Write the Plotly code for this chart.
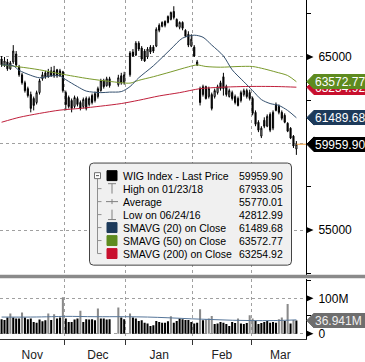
import numpy as np
import pandas as pd
import plotly.graph_objects as go

# ---------------- data ----------------
holidays = ["2017-12-25", "2017-12-26", "2018-01-01"]
dates = [d + pd.Timedelta(hours=12) for d in pd.bdate_range("2017-11-01", "2018-03-22")
         if d.strftime("%Y-%m-%d") not in holidays]

opens = [64886, 64543, 64714, 64314, 64714, 65171, 64429, 63971, 63514, 63171,
         62829, 62600, 62371, 62943, 63743, 64086, 63857, 64200, 63914, 64257,
         63914, 64143, 62943, 62657, 62486, 62143, 62600, 62371, 62143, 62600,
         62257, 62771, 62486, 62714, 63057, 63629, 63343, 63743,
         63400, 63914, 63514,
         63971, 65286, 65114, 65800, 65514, 65343,
         65000, 65571, 65571, 65629, 66829, 66771, 67057, 67000, 67171, 67628,
         67171, 66714, 67000, 66543, 66314, 65629, 65571, 64543, 63171, 62829,
         63286, 62714, 62829, 62714, 62943, 63514, 63857, 63286, 62714, 62943,
         62714, 62600, 62486, 62829, 63057, 62943, 62600, 61800, 61229, 60429,
         61343, 61000, 61686, 60886, 62257, 62143, 61800, 61629, 61171, 60886,
         60429, 59686]
highs = [65057, 65000, 64886, 64771, 65686, 65343, 64543, 64086, 63629, 63286,
         63000, 62714, 63057, 63743, 64143, 64200, 64314, 64429, 64486, 64314,
         64314, 64200, 63057, 62771, 62600, 62771, 62714, 62486, 62657, 62714,
         62714, 62886, 63000, 63286, 63743, 63743, 63857, 63857,
         63971, 64086, 64143,
         65343, 65457, 65914, 65914, 65629, 65457,
         65571, 65686, 65686, 66714, 66943, 67057, 67114, 67400, 67628, 67933.05,
         67228, 67057, 67057, 66600, 66486, 66314, 65686, 64829, 63286, 63400,
         63343, 63286, 62943, 63171, 63400, 63629, 64086, 63400, 63171, 63057,
         62829, 62714, 63057, 63171, 63171, 63114, 62714, 61914, 61343, 61000,
         61514, 61686, 61800, 61914, 62371, 62257, 61914, 61743, 61229, 60943,
         60486, 60143]
lows = [64429, 64429, 64200, 64257, 64600, 64429, 63857, 63400, 62943, 62657,
        61800, 61914, 62257, 62829, 63629, 63743, 63800, 63857, 63800, 63800,
        63857, 62943, 61914, 62029, 61800, 62029, 62143, 61914, 62029, 61914,
        62143, 62257, 62371, 62600, 63000, 63171, 63286, 63229,
        63286, 63400, 63400,
        63857, 65000, 65057, 65343, 64771, 64714,
        64886, 65171, 65229, 65571, 66429, 66714, 66714, 66943, 67114, 67171,
        66714, 66600, 66543, 66143, 65571, 65571, 65000, 64486, 62200, 62714,
        62543, 62600, 61914, 62600, 62829, 63057, 62771, 62714, 62657, 62486,
        62257, 62143, 62371, 62714, 62600, 62486, 61629, 61000, 60657, 60314,
        60886, 60943, 60657, 60771, 61857, 61686, 61343, 61171, 60657, 60257,
        59743, 59343]
closes = [64543, 64771, 64314, 64657, 65343, 64543, 63971, 63514, 63057, 62771,
          62029, 62200, 62943, 63629, 63971, 63857, 64143, 63914, 64200, 63914,
          64200, 63057, 62257, 62143, 62029, 62657, 62257, 62029, 62543, 62029,
          62600, 62371, 62886, 63171, 63629, 63286, 63743, 63343,
          63800, 63514, 63971,
          65229, 65057, 65800, 65457, 64886, 64771,
          65457, 65286, 65343, 66600, 66543, 67000, 66829, 67343, 67571, 67286,
          66771, 67000, 66657, 66200, 65686, 66029, 65057, 64714, 62371, 63286,
          62600, 63171, 62029, 63057, 63286, 63171, 63171, 62829, 63057, 62600,
          62371, 62200, 62943, 63057, 62714, 62600, 61743, 61114, 60771, 60886,
          61000, 61571, 60771, 61800, 61914, 61800, 61457, 61229, 60714, 60314,
          59857, 59959.90]
volume_m = [41, 39, 46, 57, 46, 43, 43, 60, 46, 41,
            43, 33, 31, 40, 35, 38, 57, 39, 55, 43,
            46, 103, 43, 33, 33, 40, 43, 65, 33, 41,
            40, 41, 38, 71, 43, 43, 40, 41,
            74, 46, 41,
            57, 46, 43, 36, 38, 31,
            29, 22, 24, 36, 33, 31, 31, 35, 49, 31,
            36, 43, 41, 39, 39, 33, 29, 31, 69, 38,
            41, 43, 50, 27, 29, 33, 31, 27, 22, 33,
            30, 43, 29, 27, 30, 52, 43, 36, 27, 30,
            33, 36, 31, 33, 31, 41, 46, 36, 84, 29,
            39, 36.941]

sma20_dates = ["2017-11-01", "2017-11-07", "2017-11-09", "2017-11-15", "2017-11-20", "2017-11-24",
               "2017-11-29", "2017-12-01", "2017-12-07", "2017-12-12", "2017-12-19", "2017-12-22",
               "2017-12-28", "2018-01-02", "2018-01-05", "2018-01-12", "2018-01-22", "2018-01-26",
               "2018-02-01", "2018-02-06", "2018-02-09", "2018-02-15", "2018-02-20", "2018-02-26",
               "2018-03-01", "2018-03-06", "2018-03-09", "2018-03-14", "2018-03-19", "2018-03-22"]
sma20 = [64540, 64490, 64230, 63940, 63800, 63910, 63910, 63690, 63290, 63030, 62940, 62970,
         63000, 63290, 63800, 64490, 65460, 66090, 66260, 66140, 65690, 65060, 64260, 63570,
         63060, 62540, 62310, 62200, 61910, 61489.68]
sma50_dates = ["2017-11-01", "2017-11-09", "2017-11-20", "2017-11-29", "2017-12-13", "2017-12-22",
               "2018-01-02", "2018-01-05", "2018-01-12", "2018-01-22", "2018-01-30", "2018-02-02",
               "2018-02-07", "2018-02-14", "2018-02-22", "2018-03-01", "2018-03-07", "2018-03-13",
               "2018-03-19", "2018-03-22"]
sma50 = [64540, 64430, 64260, 64030, 63740, 63590, 63490, 63650, 63860, 64140, 64430, 64540,
         64450, 64410, 64450, 64450, 64310, 64130, 63930, 63572.77]
sma200_dates = ["2017-11-01", "2017-11-09", "2017-11-20", "2017-11-29", "2017-12-08", "2017-12-19",
                "2017-12-28", "2018-01-05", "2018-01-16", "2018-01-25", "2018-02-05", "2018-02-14",
                "2018-02-23", "2018-03-06", "2018-03-14", "2018-03-22"]
sma200 = [61230, 61510, 61740, 61930, 62030, 62160, 62310, 62500, 62750, 62940, 63170, 63250,
          63290, 63300, 63290, 63254.92]
vol_ma_dates = ["2017-11-01", "2017-11-15", "2017-11-24", "2017-12-01", "2017-12-15", "2017-12-29",
                "2018-01-10", "2018-01-19", "2018-01-31", "2018-02-09", "2018-02-20", "2018-03-01",
                "2018-03-12", "2018-03-22"]
vol_ma = [47, 47, 48, 49, 48, 48, 47, 45, 42, 40, 38, 37, 37, 39]

legend_rows = [("WIG Index - Last Price", "59959.90"),
               ("High on 01/23/18", "67933.05"),
               ("Average", "55770.01"),
               ("Low on 06/24/16", "42812.99"),
               ("SMAVG (20) on Close", "61489.68"),
               ("SMAVG (50) on Close", "63572.77"),
               ("SMAVG (200) on Close", "63254.92")]

# ---------------- styling / geometry ----------------
FONT = "Liberation Sans"
W, H = 365, 362
PW, PH = 306, 342          # plot area (margins: r=59, b=20)
C20, C50, C200 = "#34506e", "#7a9a2c", "#c0203c"
T20, T50, T200 = "#1d3a5a", "#5e8b1f", "#c8102e"
GRID = "#a0a0a0"

def noon(s):
    return pd.Timestamp(s) + pd.Timedelta(hours=12)

def px(x):
    return x / PW

def py(y):
    return (PH - y) / PH

Y_TOP, Y_BOT = 68293, 52428          # main panel (y px 0 .. 277)
V_TOP, V_BOT = 156.2e6, -15.2e6      # volume panel (y px 281 .. 342)
P_PER_PX = (Y_TOP - Y_BOT) / 277.0
V_PER_PX = (V_TOP - V_BOT) / 61.0
x_start = "2017-10-31 23:00"
x_end = "2018-03-27 19:00"

vols = [v * 1e6 for v in volume_m]
ma_interp = np.interp([d.value for d in dates],
                      [noon(d).value for d in vol_ma_dates], vol_ma)
vol_colors = ["#8a8a8a" if v > m else "#000000" for v, m in zip(volume_m, ma_interp)]

fig = go.Figure()
fig.add_trace(go.Scatter(x=[noon(d) for d in sma200_dates], y=sma200, mode="lines",
                         line=dict(color=C200, width=1, shape="spline", smoothing=0.8),
                         xaxis="x", yaxis="y", hoverinfo="skip"))
fig.add_trace(go.Scatter(x=[noon(d) for d in sma50_dates], y=sma50, mode="lines",
                         line=dict(color=C50, width=1, shape="spline", smoothing=0.8),
                         xaxis="x", yaxis="y", hoverinfo="skip"))
fig.add_trace(go.Scatter(x=[noon(d) for d in sma20_dates], y=sma20, mode="lines",
                         line=dict(color=C20, width=1, shape="spline", smoothing=0.8),
                         xaxis="x", yaxis="y", hoverinfo="skip"))
fig.add_trace(go.Candlestick(x=dates, open=opens, high=highs, low=lows, close=closes,
                             increasing=dict(line=dict(color="black", width=1), fillcolor="white"),
                             decreasing=dict(line=dict(color="black", width=1), fillcolor="black"),
                             whiskerwidth=0, xaxis="x", yaxis="y", hoverinfo="skip"))
fig.add_trace(go.Bar(x=dates, y=vols, marker=dict(color=vol_colors, line=dict(width=0)),
                     xaxis="x2", yaxis="y2", hoverinfo="skip"))
fig.add_trace(go.Scatter(x=[noon(d) for d in vol_ma_dates], y=[v * 1e6 for v in vol_ma],
                         mode="lines", line=dict(color="#56769a", width=1, shape="spline"),
                         xaxis="x2", yaxis="y2", hoverinfo="skip"))

shapes = []
annotations = []

# last price line
shapes.append(dict(type="line", xref="x", yref="y", x0=dates[-1], x1=x_end,
                   y0=closes[-1], y1=closes[-1], line=dict(color="#f0a040", width=1)))

# separator band between panels
shapes.append(dict(type="rect", xref="paper", yref="paper", x0=0, x1=px(366),
                   y0=py(280.7), y1=py(277.3), fillcolor="#8a8a8a", line=dict(width=0)))

# arrow markers on the right axis
def arrow(v, yref, per_px):
    h = 3.2 * per_px
    return dict(type="path", xref="paper", yref=yref, layer="above",
                path=f"M {px(306.5)},{v + h} L {px(313.5)},{v} L {px(306.5)},{v - h} Z",
                fillcolor="black", line=dict(width=0))

for v in (65000, 55000):
    shapes.append(arrow(v, "y", P_PER_PX))
for v in (0, 100e6):
    shapes.append(arrow(v, "y2", V_PER_PX))

# value tags: pointed tip (shape) + boxed label (annotation, later ones cover earlier ones)
def tag(v, yref, per_px, fill, text, tcolor="white"):
    h = 7.4 * per_px
    shapes.append(dict(type="path", xref="paper", yref=yref, layer="above",
                       path=f"M {px(306.8)},{v} L {px(314)},{v + h} L {px(314)},{v - h} Z",
                       fillcolor=fill, line=dict(color=fill, width=1)))
    annotations.append(dict(xref="paper", yref=yref, x=px(313.5), y=v, text=text,
                            xanchor="left", yanchor="middle", showarrow=False,
                            width=54, height=13, align="left", borderpad=1,
                            bgcolor=fill, bordercolor=fill, borderwidth=0,
                            font=dict(family=FONT, size=12, color=tcolor)))

tag(sma200[-1], "y", P_PER_PX, T200, f"{sma200[-1]:.2f}")
tag(sma50[-1], "y", P_PER_PX, T50, f"{sma50[-1]:.2f}")
tag(sma20[-1], "y", P_PER_PX, T20, f"{sma20[-1]:.2f}")
tag(closes[-1], "y", P_PER_PX, "#000000", f"{closes[-1]:.2f}")
tag(vols[-1], "y2", V_PER_PX, "#6e6e6e", f"{volume_m[-1]:.3f}M", "#f0f0f0")

# legend panel
def rrect(x0, y0, x1, y1, r):
    return (f"M {px(x0 + r)},{py(y0)} L {px(x1 - r)},{py(y0)} Q {px(x1)},{py(y0)} {px(x1)},{py(y0 + r)} "
            f"L {px(x1)},{py(y1 - r)} Q {px(x1)},{py(y1)} {px(x1 - r)},{py(y1)} "
            f"L {px(x0 + r)},{py(y1)} Q {px(x0)},{py(y1)} {px(x0)},{py(y1 - r)} "
            f"L {px(x0)},{py(y0 + r)} Q {px(x0)},{py(y0)} {px(x0 + r)},{py(y0)} Z")

shapes.append(dict(type="path", xref="paper", yref="paper", path=rrect(89.5, 164.5, 291.5, 267.5, 4),
                   fillcolor="#f0f0f0", line=dict(color="#444444", width=1)))

row_y = [177.2 + 13.1 * k for k in range(7)]

def pline(x0, y0, x1, y1, color="#808080", w=1):
    shapes.append(dict(type="line", xref="paper", yref="paper", x0=px(x0), y0=py(y0),
                       x1=px(x1), y1=py(y1), line=dict(color=color, width=w)))

def prect(x0, y0, x1, y1, fill, lc=None):
    shapes.append(dict(type="rect", xref="paper", yref="paper", x0=px(x0), y0=py(y1),
                       x1=px(x1), y1=py(y0), fillcolor=fill,
                       line=dict(color=lc or fill, width=1)))

# tree structure
pline(97.5, 180.5, 97.5, row_y[6], "#909090")
for k in range(1, 7):
    pline(97.5, row_y[k], 101.5, row_y[k], "#909090")
prect(94.5, row_y[0] - 3, 100.5, row_y[0] + 3, "#ffffff", "#707070")
pline(96, row_y[0], 99, row_y[0], "#505050")
# markers
prect(107, row_y[0] - 5, 117, row_y[0] + 5, "#000000")
pline(112, row_y[1] - 5, 112, row_y[1] + 5, "#808080")
pline(108, row_y[1] - 5, 116, row_y[1] - 5, "#808080")
pline(106, row_y[2], 118, row_y[2], "#808080")
pline(112, row_y[2] - 2.5, 112, row_y[2] + 2.5, "#808080")
pline(112, row_y[3] - 5, 112, row_y[3] + 5, "#808080")
pline(108, row_y[3] + 5, 116, row_y[3] + 5, "#808080")
prect(107, row_y[4] - 5, 117, row_y[4] + 5, T20)
prect(107, row_y[5] - 5, 117, row_y[5] + 5, T50)
prect(107, row_y[6] - 5, 117, row_y[6] + 5, T200)

for (name, val), yy in zip(legend_rows, row_y):
    annotations.append(dict(xref="paper", yref="paper", x=px(120.5), y=py(yy), text=name,
                            xanchor="left", yanchor="middle", showarrow=False,
                            font=dict(family=FONT, size=10.5, color="#000000")))
    annotations.append(dict(xref="paper", yref="paper", x=px(285), y=py(yy), text=val,
                            xanchor="right", yanchor="middle", showarrow=False,
                            font=dict(family=FONT, size=10.5, color="#000000")))

xcommon = dict(type="date", range=[x_start, x_end], rangebreaks=[dict(bounds=["sat", "mon"])],
               dtick="M1", tick0="2017-11-01", showgrid=True, gridcolor=GRID, griddash="dot",
               gridwidth=1, zeroline=False, fixedrange=True)

fig.update_layout(
    width=W, height=H,
    margin=dict(l=0, r=59, t=0, b=20, pad=0),
    paper_bgcolor="white", plot_bgcolor="white",
    showlegend=False,
    font=dict(family=FONT, size=12, color="#000000"),
    boxgap=0.45,
    xaxis=dict(**xcommon, anchor="y", showticklabels=False, ticks="",
               rangeslider=dict(visible=False)),
    xaxis2=dict(**xcommon, anchor="y2", matches="x", ticklabelmode="period", tickformat="%b",
                ticks="outside", ticklen=5, tickcolor="#333333", showline=True,
                linecolor="#333333", linewidth=1,
                tickfont=dict(family=FONT, size=12, color="#222222")),
    yaxis=dict(domain=[py(277), 1], range=[Y_BOT, Y_TOP], side="right", anchor="x",
               tickvals=[55000, 60000, 65000], ticktext=["55000", "", "65000"],
               showgrid=True, gridcolor=GRID, griddash="dot", gridwidth=1, zeroline=False,
               ticks="", showline=True, linecolor="black", linewidth=1,
               ticklabelstandoff=9, tickfont=dict(family=FONT, size=12, color="black"),
               minor=dict(tickvals=[52500, 57500, 62500, 67500], ticks="outside", ticklen=4,
                          tickcolor="black", showgrid=False),
               fixedrange=True),
    yaxis2=dict(domain=[0, py(281)], range=[V_BOT, V_TOP], side="right", anchor="x2",
                tickvals=[0, 100e6], ticktext=["0", "100M"],
                showgrid=True, gridcolor=GRID, griddash="dot", gridwidth=1, zeroline=False,
                ticks="", showline=True, linecolor="black", linewidth=1,
                ticklabelstandoff=9, tickfont=dict(family=FONT, size=12, color="black"),
                minor=dict(tickvals=[50e6, 150e6], ticks="outside", ticklen=4,
                           tickcolor="black", showgrid=False),
                fixedrange=True),
    bargap=0.3,
    shapes=shapes,
    annotations=annotations,
)

fig.write_html("out.html")
